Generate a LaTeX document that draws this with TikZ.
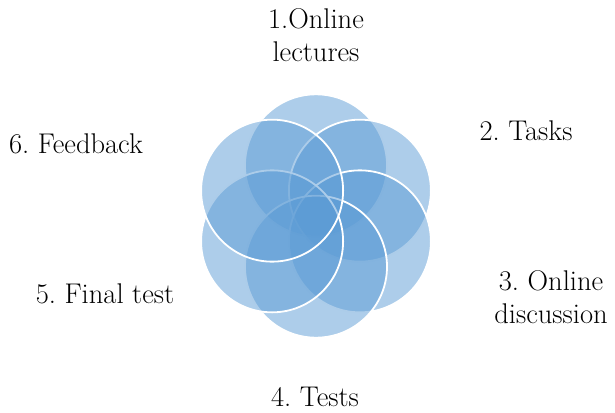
\documentclass[tikz,border=0pt]{standalone}
\definecolor{petalblue}{HTML}{5B9BD5}
\frenchspacing
\begin{document}
\begin{tikzpicture}[x=1pt,y=-1pt,
  petal/.style={circle, minimum size=142pt, inner sep=0pt,
    fill=petalblue, fill opacity=0.5, draw=white, line width=1.8pt},
  lbl/.style={font=\fontsize{28.5}{32.5}\selectfont, text=black,
    inner sep=0pt, align=center, anchor=base}]
\useasboundingbox (0,0) rectangle (615,412);

% six overlapping petals, drawn clockwise from the top
\node[petal] (p1) at (316,165.3) {};
\node[petal] (p2) at (359.9,190.65) {};
\node[petal] (p3) at (359.9,241.35) {};
\node[petal] (p4) at (316,266.7) {};
\node[petal] (p5) at (272.1,241.35) {};
\node[petal] (p6) at (272.1,190.65) {};

% stage labels (base anchor sits on the last line)
\node[lbl] (t1) at (316,61) {1.Online\\lectures};
\node[lbl] (t2) at (526,140) {2. Tasks};
\node[lbl] (t3) at (551,323) {3. Online\\discussion};
\node[lbl] (t4) at (315,406) {4. Tests};
\node[lbl] (t5) at (105,303) {5. Final test};
\node[lbl] (t6) at (76,153) {6. Feedback};
\end{tikzpicture}
\end{document}
